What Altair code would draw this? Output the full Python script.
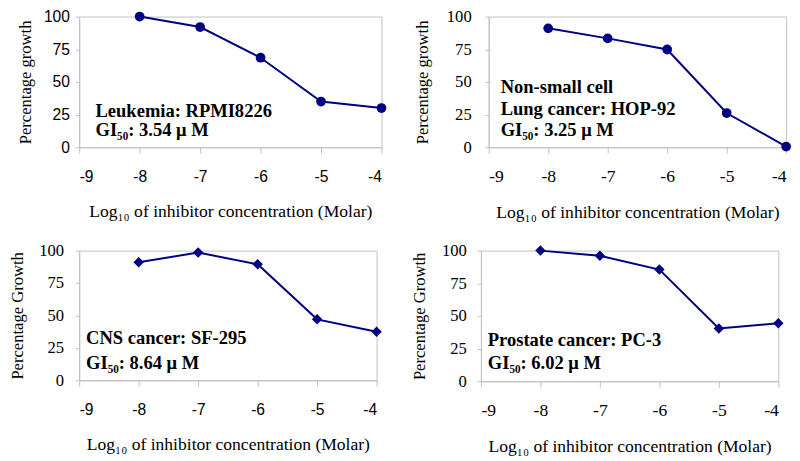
import altair as alt
import pandas as pd

# ---------------- data ----------------
conc = [-8, -7, -6, -5, -4]
leukemia = [100, 92, 68.5, 35, 30]
lung = [91, 83.3, 74.8, 26.2, 0.5]
cns = [91, 98.5, 89.5, 47, 37.4]
prostate = [100, 96, 85.5, 40.4, 44.4]

x_ticks = [-9, -8, -7, -6, -5, -4]
y_ticks = [0, 25, 50, 75, 100]

notes1 = ["Leukemia: RPMI8226", "GI\u2085\u2080: 3.54 \u03bc M"]
notes2 = ["Non-small cell", "Lung cancer: HOP-92", "GI\u2085\u2080: 3.25 \u03bc M"]
notes3 = ["CNS cancer: SF-295", "GI\u2085\u2080: 8.64 \u03bc M"]
notes4 = ["Prostate cancer: PC-3", "GI\u2085\u2080: 6.02 \u03bc M"]

# annotation anchors (data units)
note_x = [-8.73, -8.80, -8.885, -8.885]
note_y = [[28.0, 12.8], [46.0, 29.4, 13.0], [32.2, 13.2], [31.8, 14.2]]

XTITLE = "Log\u2081\u2080 of inhibitor concentration (Molar)"
SERIF = "Liberation Serif"
SANS = "Liberation Sans"
NAVY = "#000080"
GRAY = "#c0c0c0"


def panel(values, shape, ytitle, notes, nx, ny, xfont, yfont, width, height,
          ylabpad, ytitlepad):
    df = pd.DataFrame({"x": conc, "y": values})
    xa = alt.X("x:Q", scale=alt.Scale(domain=[-9, -4], nice=False),
               axis=alt.Axis(values=x_ticks, labelExpr="datum.value + ''",
                             title=XTITLE, titleFont=SERIF, titleFontSize=18,
                             titleFontWeight="normal", titleColor="black",
                             labelFont=xfont, labelFontSize=16 if xfont == SANS else 18,
                             labelColor="black", labelOverlap=False,
                             labelPadding=16 if xfont == SANS else 15,
                             titlePadding=19, tickSize=6,
                             tickColor=GRAY, domainColor=GRAY, grid=False))
    ya = alt.Y("y:Q", scale=alt.Scale(domain=[0, 100], nice=False),
               axis=alt.Axis(values=y_ticks, title=ytitle, titleFont=SERIF,
                             titleFontSize=17, titleFontWeight="normal",
                             titleColor="black", labelFont=yfont,
                             labelFontSize=16 if yfont == SANS else 17,
                             labelColor="black", labelOverlap=False,
                             labelPadding=ylabpad,
                             titlePadding=ytitlepad, tickSize=4, tickColor=GRAY,
                             domainColor=GRAY, grid=False))
    base = alt.Chart(df).encode(x=xa, y=ya)
    line = base.mark_line(color=NAVY, strokeWidth=2)
    pts = base.mark_point(shape=shape, filled=True, color=NAVY, opacity=1,
                          size=100 if shape == "circle" else 115)
    ndf = pd.DataFrame({"t": notes, "x": [nx] * len(notes), "y": ny})
    txt = alt.Chart(ndf).mark_text(align="left", baseline="middle", font=SERIF,
                                   fontSize=19, fontWeight="bold",
                                   color="black").encode(x=xa, y=ya, text="t:N")
    return alt.layer(line, pts, txt).properties(width=width, height=height)


p1 = panel(leukemia, "circle", "Percentage growth", notes1, note_x[0], note_y[0],
           SANS, SANS, 310, 134, 6, 9)
p2 = panel(lung, "circle", "Percentage growth", notes2, note_x[1], note_y[1],
           SERIF, SERIF, 305, 134, 14, 15)
p3 = panel(cns, "diamond", "Percentage Growth", notes3, note_x[2], note_y[2],
           SANS, SERIF, 305, 133, 12, 13)
p4 = panel(prostate, "diamond", "Percentage Growth", notes4, note_x[3], note_y[3],
           SERIF, SERIF, 305, 134, 11, 13)

chart = alt.vconcat(
    alt.hconcat(p1, p2, spacing=27),
    alt.hconcat(p3, p4, spacing=29),
    spacing=19,
).properties(padding={"top": -7, "left": 0, "right": 0, "bottom": 0}).configure_view(
    stroke=GRAY, strokeWidth=1)

chart.save("out.html", embed_options={"renderer": "svg", "actions": False})
